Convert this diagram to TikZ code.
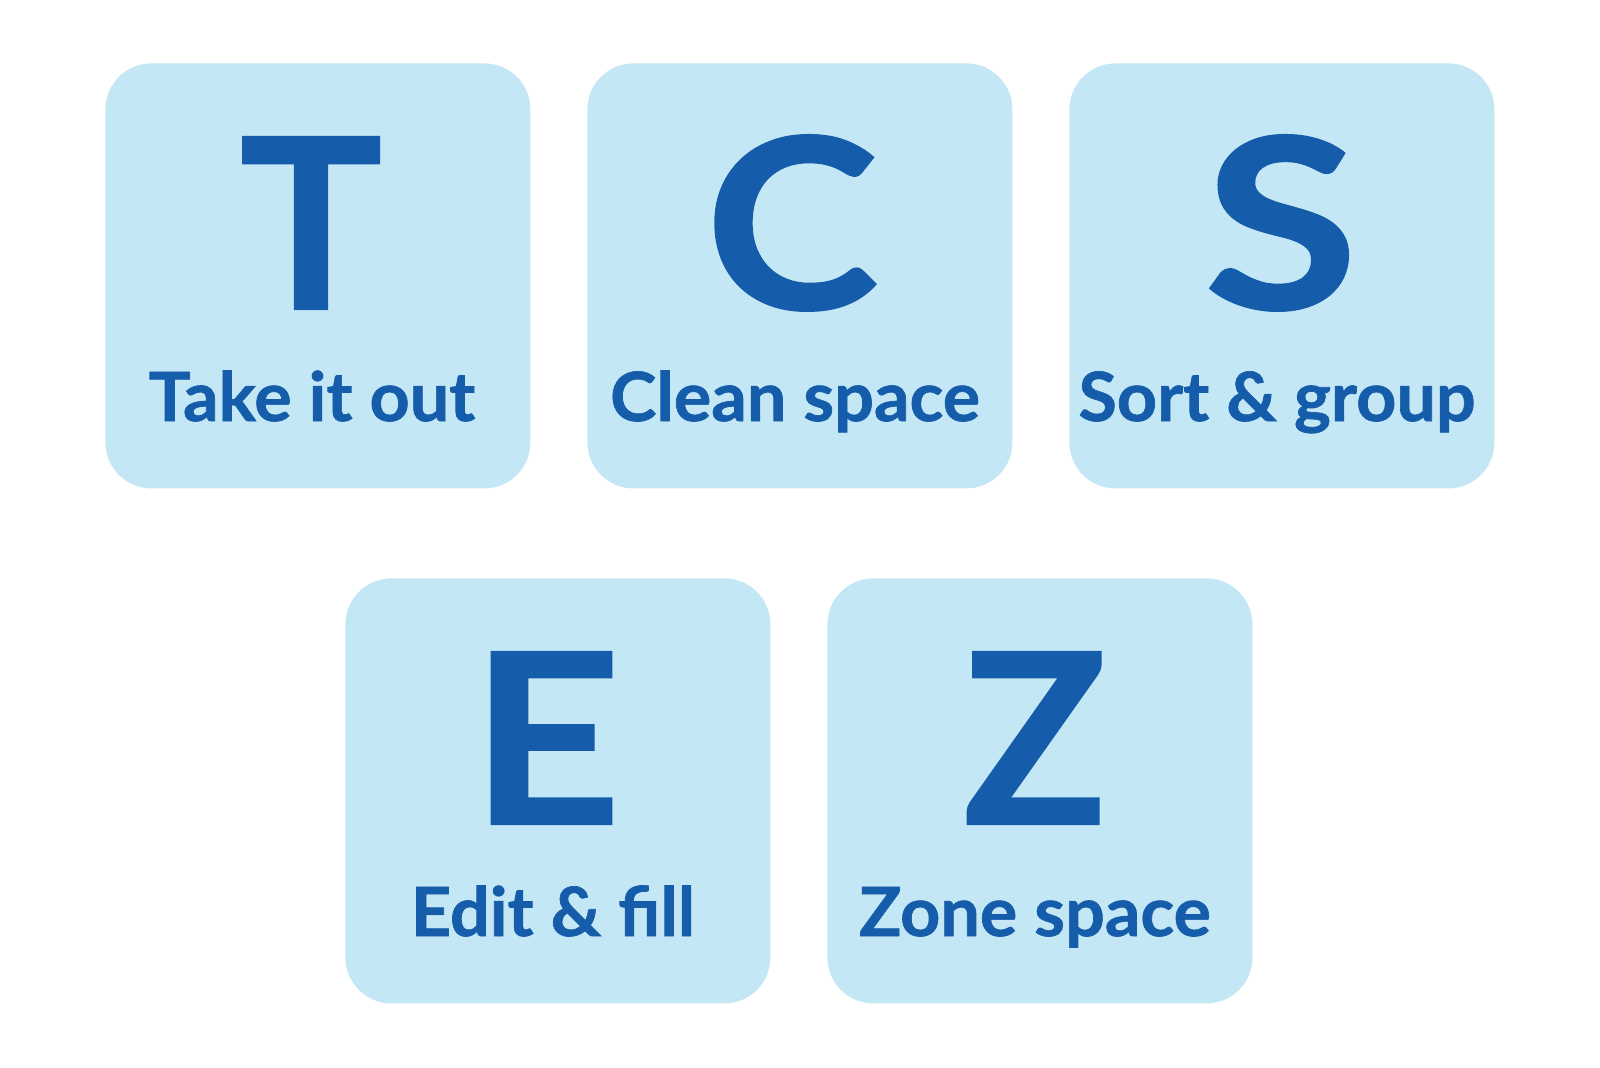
\documentclass[tikz,border=0pt]{standalone}
\usepackage{graphicx}
\usepackage{fontspec}
\setmainfont{Lato}
\newfontfamily\labfont{Lato}[BoldFeatures={FakeStretch=1.03,FakeBold=1.0}]
\newfontfamily\bigfont{Lato}[BoldFeatures={FakeBold=0.9}]
\definecolor{tilefill}{HTML}{C4E7F5}
\definecolor{ink}{HTML}{155DAA}
\newcommand{\wide}[2]{\scalebox{#1}[1]{#2}}
\begin{document}
\begin{tikzpicture}[x=0.5pt,y=-0.5pt,
  tile/.style={fill=tilefill, draw=none, rounded corners=23pt, minimum width=212.5pt, minimum height=212.5pt, inner sep=0pt, anchor=north west},
  big/.style={text=ink, font=\bigfont\fontsize{119}{119}\selectfont\bfseries, anchor=base, inner sep=0pt},
  lab/.style={text=ink, font=\labfont\fontsize{34}{34}\selectfont\bfseries, anchor=base, inner sep=0pt}]
\fill[white] (0,0) rectangle (1600,1067);
\useasboundingbox (0,0) rectangle (1600,1067);
% row 1
\node[tile] (tT) at (105,63) {};
\node[tile] (tC) at (587,63) {};
\node[tile] (tS) at (1069,63) {};
% row 2
\node[tile] (tE) at (345,578) {};
\node[tile] (tZ) at (827,578) {};
% letters
\node[big] (lT) at (311,309) {T};
\node[big] (lC) at (792,309) {\wide{1.1}{C}};
\node[big] (lS) at (1281,309) {\wide{1.18}{S}};
\node[big] (lE) at (546,824) {\wide{1.1}{E}};
\node[big] (lZ) at (1035,824) {Z};
% labels
\node[lab] (wT) at (312,421) {Take it out};
\node[lab] (wC) at (795,421) {Clean space};
\node[lab] (wS) at (1277,421) {Sort \& group};
\node[lab] (wE) at (553,936) {Edit \& fill};
\node[lab] (wZ) at (1035,936) {Zone space};
\end{tikzpicture}
\end{document}
